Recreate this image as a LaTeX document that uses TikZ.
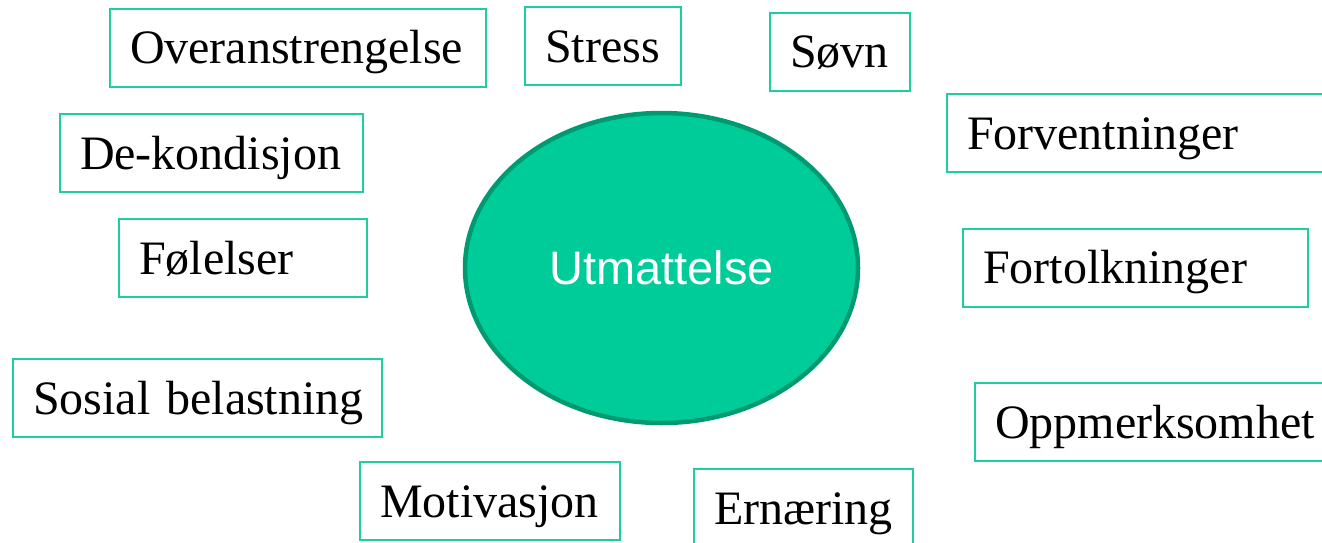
\documentclass[tikz,border=0pt]{standalone}
\usepackage{fontspec}
\setmainfont{Liberation Serif}
\newfontfamily\ovalfont{Liberation Sans}
\usetikzlibrary{shapes.geometric}

\definecolor{boxgreen}{HTML}{1DCFA0}
\definecolor{ovalfill}{HTML}{00CC99}
\definecolor{ovaledge}{HTML}{009A70}

\begin{document}
\begin{tikzpicture}[x=1pt, y=-1pt,
        factor/.style = {draw=boxgreen, line width=2pt, anchor=west,
                         minimum height=78pt, inner xsep=20pt, inner ysep=0pt,
                         align=left, text width=#1,
                         text height=40pt, text depth=8pt,
                         font=\fontsize{48}{56}\selectfont},
        centre/.style = {ellipse, draw=ovaledge, fill=ovalfill, line width=4.5pt,
                         minimum width=393pt, minimum height=310pt, inner sep=0pt,
                         text=white, font=\ovalfont\fontsize{47}{56}\selectfont}]
        \useasboundingbox (0,0) rectangle (1322,542);

        \node[centre] (utm) at (661.5,268) {Utmattelse};

        % top row
        \node[factor=336pt] (over)    at (109,47.5)  {Overanstrengelse};
        \node[factor=116pt] (stress)  at (524,46)    {Stress};
        \node[factor=100pt] (sovn)    at (769,51.5)  {Søvn};

        % left side
        \node[factor=263pt] (dekond)  at (59,153)    {De-kondisjon};
        \node[factor=208pt] (folel)   at (118,258)   {Følelser};
        \node[factor=329pt] (sosial)  at (12,398)    {\mbox{Sosial belastning}};

        % right side
        \node[factor=360pt] (forv)    at (946,133)   {Forventninger};
        \node[factor=305pt] (fortolk) at (962,267.5) {Fortolkninger};
        \node[factor=340pt] (oppm)    at (974,422)   {Oppmerksomhet};

        % bottom row
        \node[factor=220pt] (motiv)   at (359,501)   {Motivasjon};
        \node[factor=179pt] (ern)     at (693,508)   {Ernæring};
\end{tikzpicture}
\end{document}
